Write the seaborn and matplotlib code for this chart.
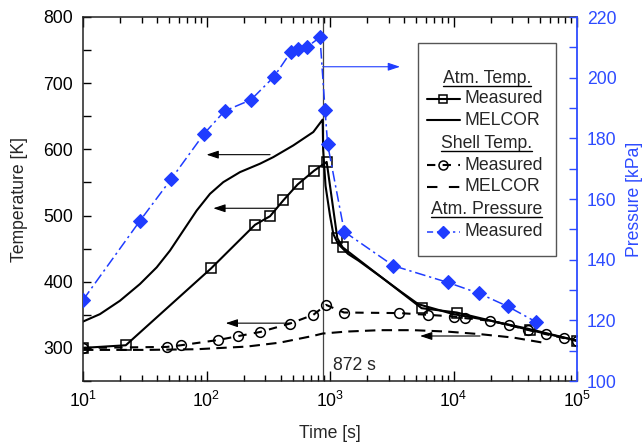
import numpy as np
import pandas as pd
import seaborn as sns
import matplotlib
matplotlib.use("Agg")
import matplotlib.pyplot as plt
from matplotlib.ticker import MultipleLocator, LogLocator
from matplotlib.patches import Rectangle
from matplotlib.lines import Line2D

# ---------------- data ----------------
atm_meas_t = [10, 22.2, 108.7, 247, 327, 419, 547, 746, 940, 1146, 1265, 5520, 10620, 41600, 100000]
atm_meas_T = [300, 304, 420, 486, 499, 523, 547, 568, 581, 466, 452, 360, 353.5, 327, 311]

atm_mel_t = [10, 13.7, 19.9, 28.9, 39.5, 50.6, 64.9, 83.3, 106.7, 136.8, 186.6, 271, 347.5,
             504.7, 732.5, 872,
             880, 920, 1000, 1064, 1165, 1400, 1697, 2620, 3810, 5200, 10000, 20000, 40000, 100000]
atm_mel_T = [339.8, 351, 371.2, 396.5, 421.7, 447, 477.3, 507.6, 532.8, 550.5, 565.6, 578.3, 588.3,
             606, 626.2, 645,
             600, 545, 500, 472, 457, 442, 432, 406.5, 384, 366, 351, 341, 329, 311]

shell_meas_t = [10, 47.6, 62, 125, 179, 271, 474, 733, 929, 1298, 3640, 6250, 10090, 12390,
                19770, 28290, 39800, 56100, 78900, 100000]
shell_meas_T = [300, 301.5, 304, 312, 317.7, 324, 336.8, 350, 365, 353.5, 352.6, 350, 347.4, 345,
                341, 334.4, 327.3, 320.7, 314.7, 310.6]

shell_mel_t = [10, 32.8, 83.3, 211.6, 393.6, 732, 872, 1364, 2541, 4724, 8800, 16400, 30500, 56800]
shell_mel_T = [297, 297, 298, 302, 308, 318.2, 321.7, 324.7, 326.8, 326.8, 324.7, 320.8, 315.6, 307]

pres_t = [10, 28.9, 51.6, 95.5, 140, 229, 352, 481, 553, 655, 830, 912, 957, 1306,
          3258, 8975, 16070, 27470, 46500]
pres_P = [126.7, 152.8, 166.5, 181.5, 189, 192.7, 200.3, 208.4, 209.5, 210.2, 213.3, 189.3, 178, 149.2,
          138, 132.5, 128.9, 124.6, 119.5]

event_time = 872

# ---------------- style ----------------
sns.set_theme(style="ticks")
plt.rcParams["font.family"] = ["Liberation Sans", "DejaVu Sans"]
plt.rcParams["mathtext.fontset"] = "custom"
plt.rcParams["mathtext.rm"] = "Liberation Sans"
plt.rcParams["mathtext.it"] = "Liberation Sans:italic"
plt.rcParams["mathtext.bf"] = "Liberation Sans:bold"

BLUE = "#1f3cff"
AXBLUE = "#2d4bff"
FS = 12.7

fig = plt.figure(figsize=(6.42, 4.47), dpi=100)
ax = fig.add_axes([83/642, 1-381/447, (577-83)/642, (381-17)/447])
ax2 = ax.twinx()

# temperature series
sns.lineplot(x=atm_meas_t, y=atm_meas_T, ax=ax, color="black", lw=1.5, marker="s",
             markersize=6.5, markerfacecolor="none", markeredgecolor="black", markeredgewidth=1.1,
             sort=False, estimator=None)
sns.lineplot(x=atm_mel_t, y=atm_mel_T, ax=ax, color="black", lw=1.5, sort=False, estimator=None)
sns.lineplot(x=shell_meas_t, y=shell_meas_T, ax=ax, color="black", lw=1.5, marker="o",
             markersize=7, markerfacecolor="none", markeredgecolor="black", markeredgewidth=1.1,
             linestyle=(0, (4, 3.5)), sort=False, estimator=None)
sns.lineplot(x=shell_mel_t, y=shell_mel_T, ax=ax, color="black", lw=1.5,
             linestyle=(0, (5, 3)), sort=False, estimator=None)

# pressure
sns.lineplot(x=pres_t, y=pres_P, ax=ax2, color=BLUE, lw=1.1, marker="D", markersize=6.8,
             markerfacecolor=BLUE, markeredgecolor=BLUE, linestyle=(0, (7, 2.5, 1.5, 2.5)),
             sort=False, estimator=None)

ax.axvline(event_time, color="#444444", lw=0.9, zorder=1)
ax.text(1050, 273, f"{event_time} s", fontsize=FS, ha="left", va="center")

# arrows
akw = dict(arrowstyle="-|>,head_length=0.6,head_width=0.2", color="black", lw=0.8,
           shrinkA=0, shrinkB=0)
ax.annotate("", xy=(100, 592), xytext=(327, 592), arrowprops=akw)
ax.annotate("", xy=(113.5, 511), xytext=(370, 511), arrowprops=akw)
ax.annotate("", xy=(143, 337.4), xytext=(474, 337.4), arrowprops=akw)
ax.annotate("", xy=(5360, 318), xytext=(16400, 318), arrowprops=akw)
bkw = dict(akw); bkw["color"] = BLUE
ax2.annotate("", xy=(3690, 203.6), xytext=(event_time, 203.6), arrowprops=bkw)

# axes
ax.set_xscale("log")
ax.set_xlim(10, 1e5)
ax.set_ylim(250, 800)
ax2.set_ylim(100, 220)
ax.yaxis.set_major_locator(MultipleLocator(100))
ax.yaxis.set_minor_locator(MultipleLocator(50))
ax2.yaxis.set_major_locator(MultipleLocator(20))
ax2.yaxis.set_minor_locator(MultipleLocator(10))
ax.xaxis.set_major_locator(LogLocator(base=10))
ax.xaxis.set_minor_locator(LogLocator(base=10, subs=np.arange(2, 10)))
ax.set_yticks([300, 400, 500, 600, 700, 800])

ax.tick_params(axis="both", which="both", direction="in", top=True, right=False,
               labelsize=FS, colors="black", width=1)
ax.tick_params(axis="y", which="major", length=6, pad=7)
ax.tick_params(axis="y", which="minor", length=6)
ax.tick_params(axis="x", which="major", length=7, pad=7)
ax.tick_params(axis="x", which="minor", length=4)
ax2.tick_params(axis="y", which="both", direction="in", colors=AXBLUE, labelsize=FS, width=1)
ax2.tick_params(axis="y", which="major", length=6, pad=7)
ax2.tick_params(axis="y", which="minor", length=6)

for s in ["left", "bottom", "top"]:
    ax.spines[s].set_color("#222222")
    ax.spines[s].set_linewidth(1.1)
ax.spines["right"].set_visible(False)
for s in ["left", "bottom", "top"]:
    ax2.spines[s].set_visible(False)
ax2.spines["right"].set_color(AXBLUE)
ax2.spines["right"].set_linewidth(1.3)

ax.set_xlabel("Time [s]", fontsize=FS, labelpad=10)
ax.set_ylabel("Temperature [K]", fontsize=FS, labelpad=11)
ax2.set_ylabel("Pressure [kPa]", fontsize=FS, color=AXBLUE, labelpad=7)

# ---------------- legend (manual, with underlined headers) ----------------
x0, x1, y0, y1 = 0.6775, 0.957, 0.344, 0.929
ax2.add_patch(Rectangle((x0, y0), x1 - x0, y1 - y0, transform=ax2.transAxes,
                        facecolor="white", edgecolor="#555555", lw=1.0, zorder=10))
xc = (x0 + x1) / 2
sx0, sx1, tx = 0.6957, 0.763, 0.773
rows = [0.832, 0.775, 0.717, 0.653, 0.593, 0.534, 0.472, 0.410]
headers = []
entries = [
    ("h", "Atm. Temp.", None),
    ("e", "Measured", dict(color="black", lw=1.5, marker="s", markersize=5.5,
                            markerfacecolor="none", markeredgewidth=1.1)),
    ("e", "MELCOR", dict(color="black", lw=1.5)),
    ("h", "Shell Temp.", None),
    ("e", "Measured", dict(color="black", lw=1.5, marker="o", markersize=6.5,
                            markerfacecolor="none", markeredgewidth=1.1, linestyle=(0, (4, 3.5)))),
    ("e", "MELCOR", dict(color="black", lw=1.5, linestyle=(0, (5, 5.5)))),
    ("h", "Atm. Pressure", None),
    ("e", "Measured", dict(color=BLUE, lw=1.1, marker="D", markersize=6.5,
                            linestyle=(0, (4, 2.5, 1.5, 2.5)))),
]
for (kind, label, kw), yy in zip(entries, rows):
    if kind == "h":
        t = ax2.text(xc, yy, label, transform=ax2.transAxes, ha="center", va="center",
                     fontsize=FS, zorder=11)
        headers.append(t)
    else:
        ln = Line2D([sx0, (sx0 + sx1) / 2, sx1], [yy, yy, yy], transform=ax2.transAxes,
                    markevery=[1], zorder=11, **kw)
        ax2.add_line(ln)
        ax2.text(tx, yy, label, transform=ax2.transAxes, ha="left", va="center",
                 fontsize=FS, zorder=11)

fig.canvas.draw()
r = fig.canvas.get_renderer()
for t in headers:
    bb = t.get_window_extent(r).transformed(ax2.transAxes.inverted())
    ax2.add_line(Line2D([bb.x0, bb.x1], [bb.y0 + 0.002, bb.y0 + 0.002],
                        transform=ax2.transAxes, color="black", lw=1.0, zorder=11))

fig.savefig("out.png", dpi=100)
